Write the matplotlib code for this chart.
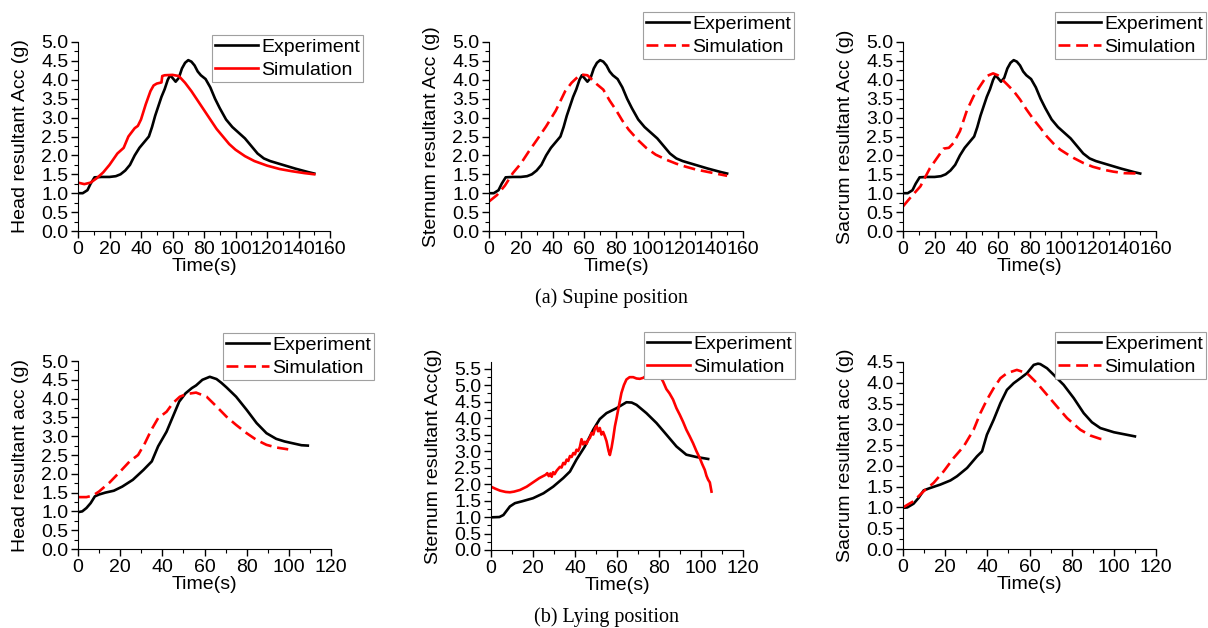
import numpy as np
import matplotlib
matplotlib.use('Agg')
import matplotlib.pyplot as plt
from matplotlib.ticker import MultipleLocator, FormatStrFormatter

plt.rcParams['font.family'] = ['Liberation Sans', 'DejaVu Sans']

# --- experiment (same curve in the three supine panels) ---
exp_supine_t = [0, 3, 6, 8, 10.5, 15, 20, 24, 27, 30, 33, 36, 39, 42, 45, 47, 49, 51, 53, 55,
                57, 58.5, 60, 62, 64, 66, 68, 70, 72, 74, 76, 78, 81, 84, 87, 90, 94, 98, 102,
                106, 110, 114, 118, 122, 130, 138, 146, 150]
exp_supine_v = [1.0, 1.0, 1.08, 1.25, 1.42, 1.43, 1.43, 1.45, 1.5, 1.6, 1.75, 2.0, 2.2, 2.35, 2.5,
                2.75, 3.05, 3.3, 3.55, 3.75, 4.0, 4.12, 4.05, 3.95, 4.05, 4.3, 4.45, 4.52, 4.48,
                4.38, 4.22, 4.12, 4.02, 3.8, 3.5, 3.25, 2.95, 2.75, 2.6, 2.45, 2.25, 2.05, 1.92,
                1.85, 1.75, 1.65, 1.56, 1.52]

# --- simulation, supine ---
head_sup_t = [0, 4, 8, 12, 16, 20, 25, 29, 32, 36, 38, 40, 43, 46, 48, 50, 53, 53.5, 55, 60, 64,
              68, 72, 76, 80, 84, 88, 92, 96, 100, 106, 112, 120, 128, 136, 144, 150]
head_sup_v = [1.28, 1.24, 1.28, 1.4, 1.55, 1.75, 2.05, 2.2, 2.5, 2.72, 2.78, 2.95, 3.35, 3.7, 3.85,
              3.9, 3.93, 4.1, 4.12, 4.13, 4.1, 3.92, 3.7, 3.45, 3.2, 2.95, 2.7, 2.5, 2.3, 2.15,
              1.98, 1.85, 1.73, 1.64, 1.58, 1.53, 1.5]

stern_sup_t = [0, 5, 10, 15, 20, 25, 30, 36, 42, 48, 52, 56, 58, 62, 65, 68, 72, 76, 80, 84, 88,
               94, 99, 105, 112, 118, 124, 130, 137, 144, 150]
stern_sup_v = [0.78, 0.95, 1.2, 1.53, 1.78, 2.1, 2.4, 2.77, 3.18, 3.7, 3.92, 4.08, 4.14, 4.12, 4.0,
               3.88, 3.74, 3.45, 3.2, 2.92, 2.68, 2.4, 2.2, 2.02, 1.88, 1.78, 1.7, 1.63, 1.57,
               1.51, 1.46]

sacr_sup_t = [0, 5, 11, 17, 21.5, 25.7, 29, 32, 36, 40.5, 44.7, 49, 53, 57, 60, 65.8, 70, 74, 78,
              82.6, 87, 91, 95, 99.5, 104, 108, 114, 120, 127, 133, 140, 150]
sacr_sup_v = [0.65, 0.9, 1.18, 1.66, 1.93, 2.18, 2.2, 2.33, 2.64, 3.2, 3.57, 3.85, 4.1, 4.17, 4.12,
              3.88, 3.7, 3.48, 3.22, 2.95, 2.72, 2.5, 2.32, 2.15, 2.03, 1.93, 1.8, 1.7, 1.62,
              1.57, 1.53, 1.52]

# --- lying position ---
head_ly_exp_t = [0, 2, 4, 6, 8, 10, 13, 17, 21, 26, 31, 35, 38, 42, 45, 48, 51, 54, 56, 59, 62.5,
                 65.7, 68, 70.4, 75, 80, 84.7, 89.4, 94, 98, 102, 106, 109]
head_ly_exp_v = [0.98, 1.0, 1.09, 1.22, 1.4, 1.45, 1.5, 1.55, 1.66, 1.84, 2.1, 2.33, 2.73, 3.12,
                 3.52, 3.92, 4.14, 4.28, 4.35, 4.5, 4.58, 4.52, 4.42, 4.3, 4.05, 3.7, 3.35, 3.08,
                 2.93, 2.86, 2.81, 2.76, 2.75]
head_ly_sim_t = [0, 4, 7, 10, 15, 20, 24.5, 28.5, 31.7, 34.8, 38, 42, 45, 48.3, 51.4, 56, 61, 65.7,
                 70.4, 75, 80, 84.7, 89.4, 94, 99.7]
head_ly_sim_v = [1.38, 1.38, 1.42, 1.53, 1.77, 2.06, 2.33, 2.5, 2.81, 3.17, 3.48, 3.65, 3.88, 4.05,
                 4.12, 4.16, 4.05, 3.79, 3.52, 3.3, 3.08, 2.9, 2.77, 2.7, 2.65]

stern_ly_exp_t = [0, 4, 5.9, 9, 11.4, 15, 20, 25, 29.6, 34.4, 37.6, 40.7, 44.7, 48.7, 51.8, 55,
                  59.8, 64.5, 67, 69.3, 74, 78.8, 83.5, 88.3, 93, 97.8, 103.4]
stern_ly_exp_v = [0.99, 1.0, 1.06, 1.32, 1.42, 1.48, 1.57, 1.72, 1.92, 2.18, 2.38, 2.74, 3.14,
                  3.65, 3.97, 4.15, 4.3, 4.48, 4.47, 4.4, 4.15, 3.85, 3.5, 3.14, 2.89, 2.82, 2.76]
stern_ly_sim_t = [0, 2, 4.3, 7, 9, 11, 13.8, 17, 20, 23,
                  26, 26.8, 27.5, 28.3, 28.9, 29.6, 30.3, 31.2, 32, 32.8,
                  33.6, 34.4, 35.2, 36, 36.8, 37.6, 38.4, 39.2, 40, 40.7,
                  41.5, 42.3, 43.1, 43.9, 44.7, 45.5, 46.3, 47.1, 47.9, 48.7,
                  49.5, 50.3, 51, 51.8, 52.6, 53.4, 54.2, 55, 56, 56.6,
                  57.4, 58.2, 59, 59.8, 61, 62.1, 63.3, 64.5, 66, 67.7,
                  69.3, 70.9, 72.5, 74, 75.5, 77.2, 78.8, 80.4, 82, 83.5,
                  85, 86.7, 88.3, 89.9, 91.5, 93, 94.6, 96.2, 97.8, 99.4,
                  100.6, 101.8, 102.6, 103.4, 104.2, 105]
stern_ly_sim_v = [1.92, 1.86, 1.8, 1.76, 1.75, 1.77, 1.82, 1.92, 2.05, 2.18,
                  2.28, 2.33, 2.24, 2.32, 2.22, 2.36, 2.3, 2.4, 2.46, 2.52,
                  2.5, 2.64, 2.6, 2.74, 2.7, 2.85, 2.82, 2.94, 2.9, 3.04,
                  3.0, 3.12, 3.36, 3.2, 3.28, 3.22, 3.34, 3.4, 3.55, 3.5,
                  3.68, 3.76, 3.6, 3.7, 3.5, 3.58, 3.45, 3.3, 3.0, 2.88,
                  3.1, 3.4, 3.75, 4.0, 4.4, 4.76, 5.0, 5.17, 5.24, 5.24,
                  5.2, 5.19, 5.22, 5.29, 5.38, 5.42, 5.4, 5.28, 5.1, 4.88,
                  4.75, 4.56, 4.3, 4.1, 3.88, 3.65, 3.45, 3.24, 3.0, 2.79,
                  2.6, 2.43, 2.25, 2.13, 2.05, 1.77]

sacr_ly_exp_t = [0, 2, 5, 7.4, 9.8, 13, 17.7, 22.5, 25.6, 30.4, 35.1, 37.5, 39.8, 43, 46.2, 49.3,
                 52.5, 55.7, 58.8, 62, 64, 65.1, 68.3, 71.5, 76.2, 81, 85.7, 89.6, 93.6, 100, 106,
                 110]
sacr_ly_exp_v = [0.99, 1.0, 1.09, 1.23, 1.41, 1.47, 1.55, 1.65, 1.75, 1.95, 2.23, 2.35, 2.75, 3.11,
                 3.51, 3.83, 3.99, 4.11, 4.23, 4.43, 4.46, 4.45, 4.35, 4.19, 3.95, 3.63, 3.27, 3.05,
                 2.91, 2.81, 2.75, 2.71]
sacr_ly_sim_t = [0, 5, 9.8, 14.5, 19.3, 24, 28.8, 33.5, 36.7, 39.8, 43, 46.2, 49.3, 54, 58.8, 63.6,
                 68.3, 73, 77.8, 84.1, 88.9, 93.6, 96.8]
sacr_ly_sim_v = [1.0, 1.15, 1.39, 1.59, 1.87, 2.19, 2.47, 2.87, 3.27, 3.59, 3.87, 4.11, 4.23, 4.31,
                 4.23, 3.99, 3.71, 3.43, 3.15, 2.87, 2.73, 2.65, 2.63]

W, H = 1208, 628
fig = plt.figure(figsize=(W / 100, H / 100), dpi=100)

FS = 14
LW = 1.9


def panel(px_left, px_top, px_w, px_h, xmax, ymax, ylabel, exp, sim, sim_dashed, leg_xy):
    ax = fig.add_axes([px_left / W, 1 - (px_top + px_h) / H, px_w / W, px_h / H])
    ax.plot(exp[0], exp[1], color='black', lw=LW, label='Experiment')
    if sim_dashed:
        ax.plot(sim[0], sim[1], color='red', lw=LW, dashes=(4.5, 2.2), label='Simulation')
    else:
        ax.plot(sim[0], sim[1], color='red', lw=LW, label='Simulation')
    ax.set_xlim(0, xmax)
    ax.set_ylim(0, ymax)
    ax.xaxis.set_major_locator(MultipleLocator(20))
    ax.xaxis.set_minor_locator(MultipleLocator(10))
    ax.yaxis.set_major_locator(MultipleLocator(0.5))
    ax.yaxis.set_minor_locator(MultipleLocator(0.25))
    ax.yaxis.set_major_formatter(FormatStrFormatter('%.1f'))
    ax.spines['top'].set_visible(False)
    ax.spines['right'].set_visible(False)
    ax.tick_params(which='major', direction='out', length=5, width=1, labelsize=FS, pad=2)
    ax.tick_params(which='minor', direction='out', length=3, width=0.8)
    ax.set_xlabel('Time(s)', fontsize=FS, labelpad=0)
    ax.set_ylabel(ylabel, fontsize=FS, labelpad=9)
    leg = ax.legend(loc='upper left', bbox_to_anchor=(leg_xy[0] / W, 1 - leg_xy[1] / H),
                    bbox_transform=fig.transFigure, borderaxespad=0, fontsize=FS,
                    fancybox=False, framealpha=1, edgecolor='#a0a0a0', borderpad=0.15,
                    handlelength=2.2, handletextpad=0.2, labelspacing=0.3)
    leg.get_frame().set_linewidth(0.8)
    return ax


panel(78, 42, 252, 189, 160, 5.0, 'Head resultant Acc (g)',
      (exp_supine_t, exp_supine_v), (head_sup_t, head_sup_v), False, (212, 35))
panel(489, 42, 254, 189, 160, 5.0, 'Sternum resultant Acc (g)',
      (exp_supine_t, exp_supine_v), (stern_sup_t, stern_sup_v), True, (643, 12))
panel(903, 42, 253, 189, 160, 5.0, 'Sacrum resultant Acc (g)',
      (exp_supine_t, exp_supine_v), (sacr_sup_t, sacr_sup_v), True, (1055, 12))

panel(78, 361, 253, 188, 120, 5.0, 'Head resultant acc (g)',
      (head_ly_exp_t, head_ly_exp_v), (head_ly_sim_t, head_ly_sim_v), True, (223, 333))
panel(491, 362, 252, 188, 120, 5.7, 'Sternum resultant Acc(g)',
      (stern_ly_exp_t, stern_ly_exp_v), (stern_ly_sim_t, stern_ly_sim_v), False, (644, 332))
panel(903, 362, 253, 187, 120, 4.5, 'Sacrum resultant acc (g)',
      (sacr_ly_exp_t, sacr_ly_exp_v), (sacr_ly_sim_t, sacr_ly_sim_v), True, (1055, 332))

fig.text(611 / W, 1 - 298 / H, '(a) Supine position', ha='center', va='center',
         fontsize=14.5, family='Liberation Serif')
fig.text(606 / W, 1 - 617 / H, '(b) Lying position', ha='center', va='center',
         fontsize=14.5, family='Liberation Serif')

fig.savefig('out.png', dpi=100)
